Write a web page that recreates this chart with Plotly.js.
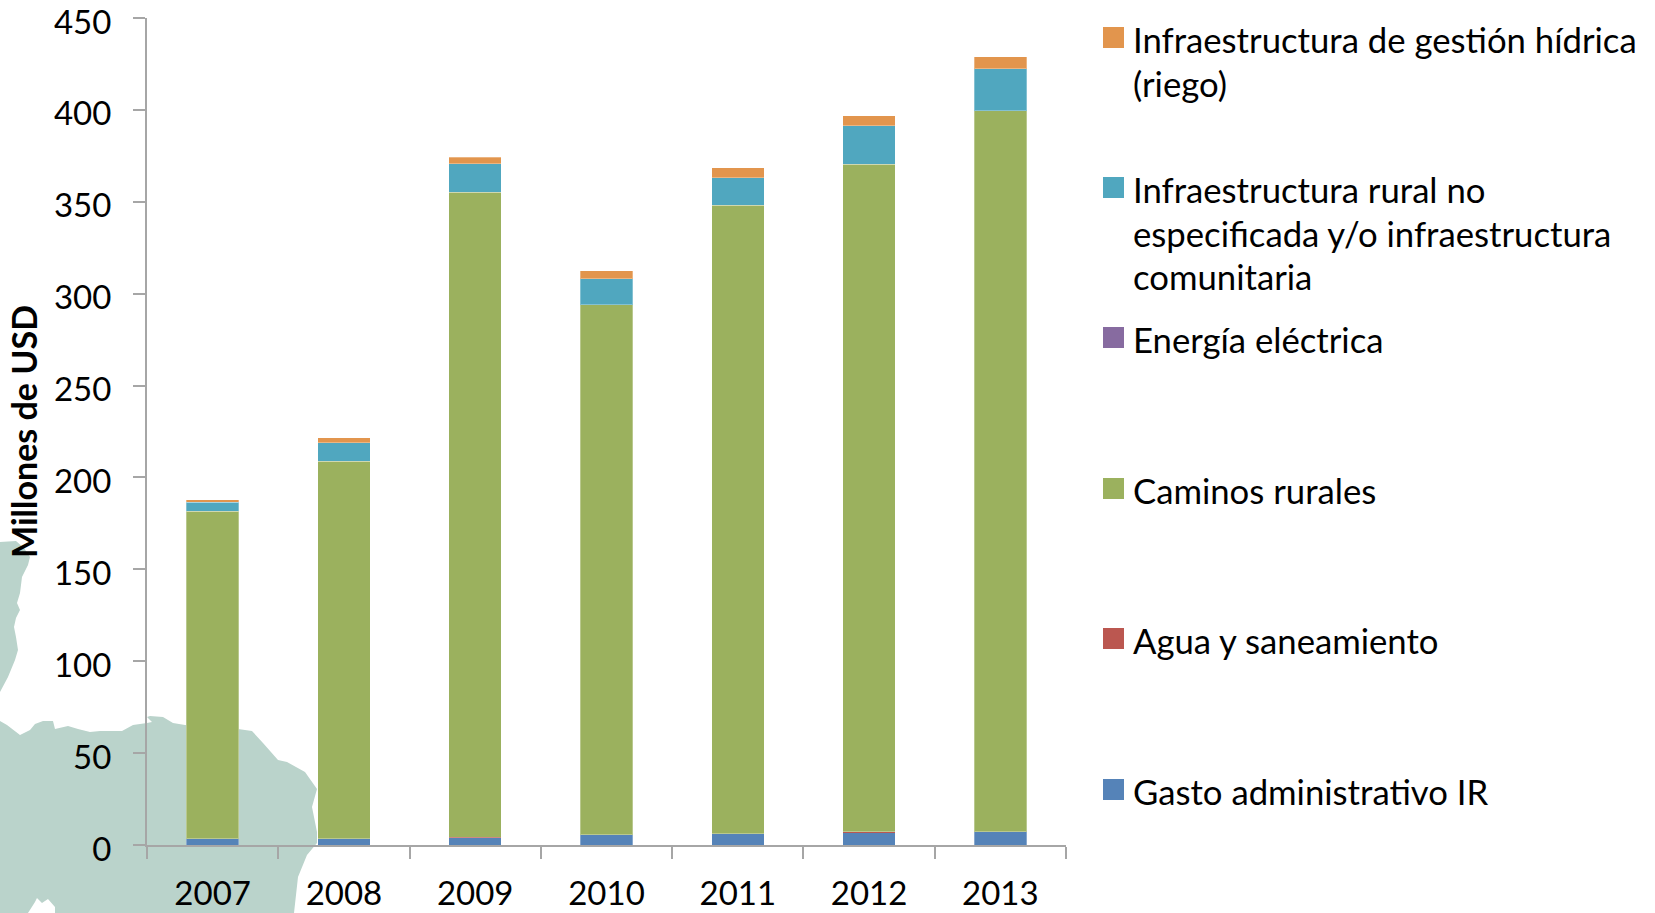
<!DOCTYPE html>
<html>
<head>
<meta charset="utf-8">
<script src="https://cdn.plot.ly/plotly-3.0.1.min.js"></script>
<style>html,body{margin:0;padding:0;background:#fff;overflow:hidden}#chart{width:1655px;height:913px}</style>
</head>
<body>
<div id="chart"></div>
<script>
const years = ['2007','2008','2009','2010','2011','2012','2013'];
const gastoAdministrativo = [3.3,3.3,4.0,5.6,6.0,7.0,7.2];
const aguaSaneamiento = [0.1,0.1,0.1,0.1,0.2,0.3,0.1];
const energiaElectrica = [0,0,0,0,0,0,0];
const caminosRurales = [178.3,205.5,351.2,288.2,342.0,363.1,392.2];
const infraRural = [4.9,10.1,15.5,14.3,15.0,21.0,22.9];
const infraHidrica = [1.3,2.6,3.3,4.3,5.3,5.3,6.4];

const yTicks = [0,50,100,150,200,250,300,350,400,450];

const nameGasto = 'Gasto administrativo IR';
const nameAgua = 'Agua y saneamiento';
const nameEnergia = 'Energía eléctrica';
const nameCaminos = 'Caminos rurales';
const nameRural = 'Infraestructura rural no<br>especificada y/o infraestructura<br>comunitaria';
const nameHidrica = 'Infraestructura de gestión hídrica<br>(riego)';

const colorGasto = '#5583b8', colorAgua = '#bb5750', colorEnergia = '#876ba0',
      colorCaminos = '#9bb15e', colorRural = '#50a7bf', colorHidrica = '#e2954d';

const W = 1655, H = 913, L = 147, R = 1066, T = 18, B = 845;
const px = x => (x - L) / (R - L);
const py = y => (B - y) / (B - T);

// Decorative map silhouette behind the plot (page pixels)
const mapUpper = [[0,542],[16,541],[24,548],[30,557],[28,565],[22,577],[20,593],[17,603],[20,610],[16,618],[14,627],[16,637],[18,650],[15,660],[8,677],[0,692]];
const mapLower = [[0,721],[7,725],[20,735],[30,730],[35,724],[43,721],[53,721],[55,729],[68,726],[78,729],[90,732],[100,731],[122,731],[133,725],[147,723],[152,722],[147,717],[150,716],[163,717],[173,723],[185,725],[238,729],[252,731],[263,743],[278,760],[287,762],[305,772],[317,789],[312,807],[317,832],[317,843],[307,855],[298,877],[294,913],[55,913],[55,907],[48,899],[42,903],[37,898],[35,902],[28,913],[0,913]];
const toPath = pts => pts.map((p,i) => (i ? 'L' : 'M') + px(p[0]).toFixed(5) + ',' + py(p[1]).toFixed(5)).join(' ') + ' Z';

const edge = {color:'rgba(255,255,255,0.3)', width:1};
const series = [
  [nameGasto, gastoAdministrativo, colorGasto, edge],
  [nameAgua, aguaSaneamiento, colorAgua, {width:0}],
  [nameEnergia, energiaElectrica, colorEnergia, {width:0}],
  [nameCaminos, caminosRurales, colorCaminos, edge],
  [nameRural, infraRural, colorRural, edge],
  [nameHidrica, infraHidrica, colorHidrica, edge]
];
const traces = series.map(s => ({
  type:'bar', name:s[0].replace(/<br>/g,' '), x:years, y:s[1],
  marker:{color:s[2], line:s[3]}
}));

const FONT = 'Lato, "Open Sans", sans-serif';
const legendRows = [
  [nameHidrica, colorHidrica, 27],
  [nameRural, colorRural, 177],
  [nameEnergia, colorEnergia, 327],
  [nameCaminos, colorCaminos, 478],
  [nameAgua, colorAgua, 628],
  [nameGasto, colorGasto, 779]
];

const shapes = [
  {type:'path', xref:'paper', yref:'paper', layer:'below', path:toPath(mapUpper), fillcolor:'#bad3cb', line:{width:0}},
  {type:'path', xref:'paper', yref:'paper', layer:'below', path:toPath(mapLower), fillcolor:'#bad3cb', line:{width:0}}
].concat(legendRows.map(r => ({
  type:'rect', xref:'paper', yref:'paper', x0:px(1103), x1:px(1124), y0:py(r[2]+21), y1:py(r[2]),
  fillcolor:r[1], line:{width:0}
})));

const annotations = legendRows.flatMap(r => r[0].split('<br>').map((line, i) => ({
  xref:'paper', yref:'paper', x:px(1132), y:py(r[2] - 9 + i * 43.5), xanchor:'left', yanchor:'top', align:'left',
  showarrow:false, text:line, font:{family:FONT, size:34.7, color:'#000'}, borderpad:0
})));

const layout = {
  width:W, height:H, barmode:'stack', bargap:0.6, showlegend:false,
  paper_bgcolor:'rgba(0,0,0,0)', plot_bgcolor:'rgba(0,0,0,0)',
  margin:{l:L, r:W-R, t:T, b:H-B, pad:0},
  font:{family:FONT, size:33, color:'#000'},
  xaxis:{type:'category', range:[-0.5,6.5], tickson:'boundaries', ticks:'outside', ticklen:12, tickwidth:2, tickcolor:'#a6a6a6',
    showline:true, linecolor:'#a6a6a6', linewidth:2, showgrid:false, zeroline:false, tickfont:{family:FONT,size:33,color:'#000'}, ticklabelstandoff:18, ticklabeloverflow:'allow', automargin:false},
  yaxis:{range:[0,450], tickvals:yTicks, ticktext:yTicks.map(String), ticks:'outside', ticklen:12, tickwidth:2, tickcolor:'#a6a6a6',
    showline:true, linecolor:'#a6a6a6', linewidth:2, showgrid:false, zeroline:false, tickfont:{family:FONT,size:33,color:'#000'}, ticklabelstandoff:15, ticklabeloverflow:'allow', automargin:false,
    title:{text:'<b>Millones de USD</b>', font:{family:FONT,size:34,color:'#000'}, standoff:6}},
  shapes, annotations
};
Plotly.newPlot('chart', traces, layout, {displayModeBar:false, responsive:false}).then(() => {
  document.querySelectorAll('.ytick text').forEach(t => t.setAttribute('dy','4'));
});
</script>
</body>
</html>
